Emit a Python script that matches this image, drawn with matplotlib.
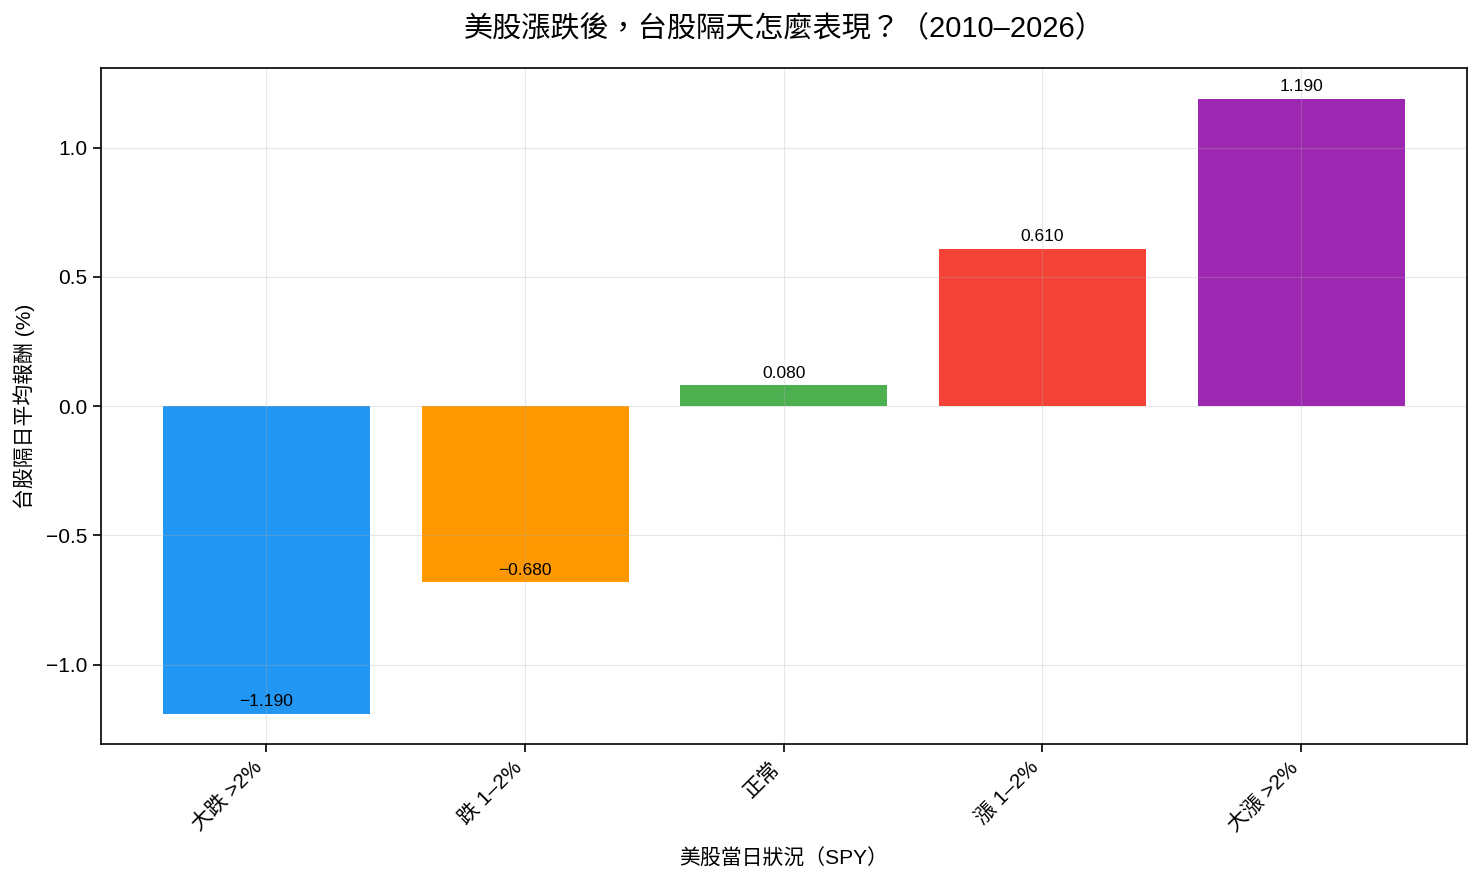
import matplotlib
matplotlib.use("Agg")
import matplotlib.pyplot as plt

plt.rcParams['font.family'] = ['Liberation Sans', 'Noto Sans CJK TC', 'DejaVu Sans']

# Data
categories = ["大跌 >2%", "跌 1–2%", "正常", "漲 1–2%", "大漲 >2%"]
values = [-1.19, -0.68, 0.08, 0.61, 1.19]
colors = ["#2196F3", "#FF9800", "#4CAF50", "#F44336", "#9C27B0"]

fig, ax = plt.subplots(figsize=(14.83, 8.82), dpi=100)
x = range(len(categories))
bars = ax.bar(x, values, color=colors, width=0.8)
for xi, v in zip(x, values):
    ax.annotate(f"{v:.3f}".replace("-", "\u2212"), (xi, v), xytext=(0, 3),
                textcoords="offset points", ha="center", va="bottom", fontsize=12.5)

ax.set_xticks(list(x))
ax.set_xticklabels(categories, rotation=45, ha="right", fontsize=15)
ax.tick_params(axis="y", labelsize=15)
ax.tick_params(length=6, width=1.2)
for s in ax.spines.values():
    s.set_linewidth(1.2)
ax.grid(True, alpha=0.3)
ax.set_xlabel("美股當日狀況（SPY）", fontsize=15, labelpad=10)
ax.set_ylabel("台股隔日平均報酬 (%)", fontsize=15, labelpad=8)
ax.set_title("美股漲跌後，台股隔天怎麼表現？（2010–2026）", fontsize=21, pad=22)

plt.subplots_adjust(left=0.068, right=0.989, top=0.923, bottom=0.156)
plt.savefig("out.png")
